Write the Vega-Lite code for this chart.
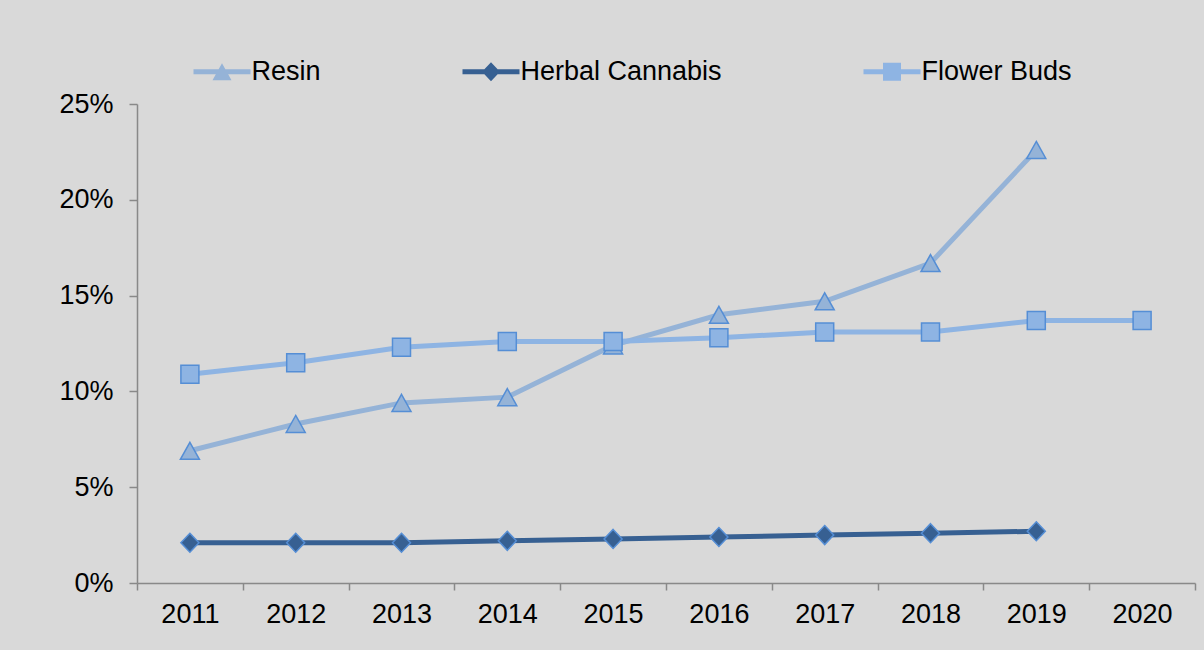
{
  "$schema": "https://vega.github.io/schema/vega-lite/v6.json",
  "width": 1058,
  "height": 479,
  "autosize": {"type": "none"},
  "padding": {"left": 137, "top": 104, "right": 9, "bottom": 67},
  "background": "#d9d9d9",
  "config": {
    "view": {"stroke": null},
    "font": "Liberation Sans",
    "axis": {
      "grid": false,
      "domainColor": "#898989",
      "domainWidth": 1.5,
      "tickColor": "#898989",
      "tickWidth": 1.5,
      "labelColor": "#000000",
      "labelFont": "Liberation Sans",
      "labelFontSize": 27,
      "title": null
    },
    "legend": {
      "orient": "none",
      "legendX": 54,
      "legendY": -46,
      "direction": "horizontal",
      "title": null,
      "labelFont": "Liberation Sans",
      "labelFontSize": 27,
      "labelColor": "#000000",
      "labelLimit": 400,
      "symbolSize": 400,
      "symbolOffset": 17.5,
      "labelOffset": 16,
      "columnPadding": 138,
      "padding": 0,
      "symbolStrokeWidth": 1.5,
      "symbolStrokeColor": "#558ed5",
      "symbolOpacity": 1
    }
  },
  "data": {
    "values": [
      {"year": "2011", "series": "Resin", "value": 0.069},
      {"year": "2012", "series": "Resin", "value": 0.083},
      {"year": "2013", "series": "Resin", "value": 0.094},
      {"year": "2014", "series": "Resin", "value": 0.097},
      {"year": "2015", "series": "Resin", "value": 0.124},
      {"year": "2016", "series": "Resin", "value": 0.140},
      {"year": "2017", "series": "Resin", "value": 0.147},
      {"year": "2018", "series": "Resin", "value": 0.167},
      {"year": "2019", "series": "Resin", "value": 0.226},
      {"year": "2011", "series": "Herbal Cannabis", "value": 0.021},
      {"year": "2012", "series": "Herbal Cannabis", "value": 0.021},
      {"year": "2013", "series": "Herbal Cannabis", "value": 0.021},
      {"year": "2014", "series": "Herbal Cannabis", "value": 0.022},
      {"year": "2015", "series": "Herbal Cannabis", "value": 0.023},
      {"year": "2016", "series": "Herbal Cannabis", "value": 0.024},
      {"year": "2017", "series": "Herbal Cannabis", "value": 0.025},
      {"year": "2018", "series": "Herbal Cannabis", "value": 0.026},
      {"year": "2019", "series": "Herbal Cannabis", "value": 0.027},
      {"year": "2011", "series": "Flower Buds", "value": 0.109},
      {"year": "2012", "series": "Flower Buds", "value": 0.115},
      {"year": "2013", "series": "Flower Buds", "value": 0.123},
      {"year": "2014", "series": "Flower Buds", "value": 0.126},
      {"year": "2015", "series": "Flower Buds", "value": 0.126},
      {"year": "2016", "series": "Flower Buds", "value": 0.128},
      {"year": "2017", "series": "Flower Buds", "value": 0.131},
      {"year": "2018", "series": "Flower Buds", "value": 0.131},
      {"year": "2019", "series": "Flower Buds", "value": 0.137},
      {"year": "2020", "series": "Flower Buds", "value": 0.137}
    ]
  },
  "encoding": {
    "x": {
      "field": "year",
      "type": "ordinal",
      "scale": {"type": "band", "paddingInner": 0, "paddingOuter": 0},
      "axis": {"tickBand": "extent", "labelAngle": 0, "tickSize": 7, "labelPadding": 11}
    },
    "y": {
      "field": "value",
      "type": "quantitative",
      "scale": {"domain": [0, 0.25], "nice": false},
      "axis": {"values": [0, 0.05, 0.1, 0.15, 0.2, 0.25], "format": ".0%", "tickSize": 8, "labelPadding": 16}
    }
  },
  "layer": [
    {
      "mark": {"type": "line", "strokeWidth": 5},
      "encoding": {
        "color": {
          "field": "series",
          "type": "nominal",
          "scale": {"domain": ["Flower Buds", "Herbal Cannabis", "Resin"], "range": ["#8eb4e3", "#376092", "#95b3d7"]},
          "legend": null
        }
      }
    },
    {
      "mark": {"type": "point", "filled": true, "size": 400, "stroke": "#558ed5", "strokeWidth": 1.5, "opacity": 1},
      "encoding": {
        "color": {
          "field": "series",
          "type": "nominal",
          "scale": {"domain": ["Flower Buds", "Herbal Cannabis", "Resin"], "range": ["#8eb4e3", "#376092", "#95b3d7"]},
          "legend": null
        },
        "shape": {
          "field": "series",
          "type": "nominal",
          "scale": {"domain": ["Flower Buds", "Herbal Cannabis", "Resin"], "range": ["M-0.9,-0.9H0.9V0.9H-0.9Z", "M0,-0.95L0.9,0L0,0.95L-0.9,0Z", "M0,-0.85L0.95,0.85L-0.95,0.85Z"]},
          "legend": null
        }
      }
    },
    {
      "transform": [{"filter": "false"}],
      "mark": {"type": "point", "filled": true, "size": 400, "stroke": "#558ed5", "strokeWidth": 1.5, "opacity": 1},
      "encoding": {
        "fill": {
          "field": "series",
          "type": "nominal",
          "scale": {"domain": ["Resin", "Herbal Cannabis", "Flower Buds"], "range": ["#95b3d7", "#376092", "#8eb4e3"]}
        },
        "shape": {
          "field": "series",
          "type": "nominal",
          "scale": {"domain": ["Resin", "Herbal Cannabis", "Flower Buds"], "range": ["M-2.85,-0.25H-0.335L0,-0.85L0.335,-0.25H2.85V0.25H0.615L0.95,0.85H-0.95L-0.615,0.25H-2.85Z", "M-2.85,-0.25H-0.663L0,-0.95L0.663,-0.25H2.85V0.25H0.663L0,0.95L-0.663,0.25H-2.85Z", "M-2.85,-0.25H-0.9V-0.9H0.9V-0.25H2.85V0.25H0.9V0.9H-0.9V0.25H-2.85Z"]}
        }
      }
    }
  ],
  "resolve": {"scale": {"shape": "independent", "fill": "independent"}}
}
